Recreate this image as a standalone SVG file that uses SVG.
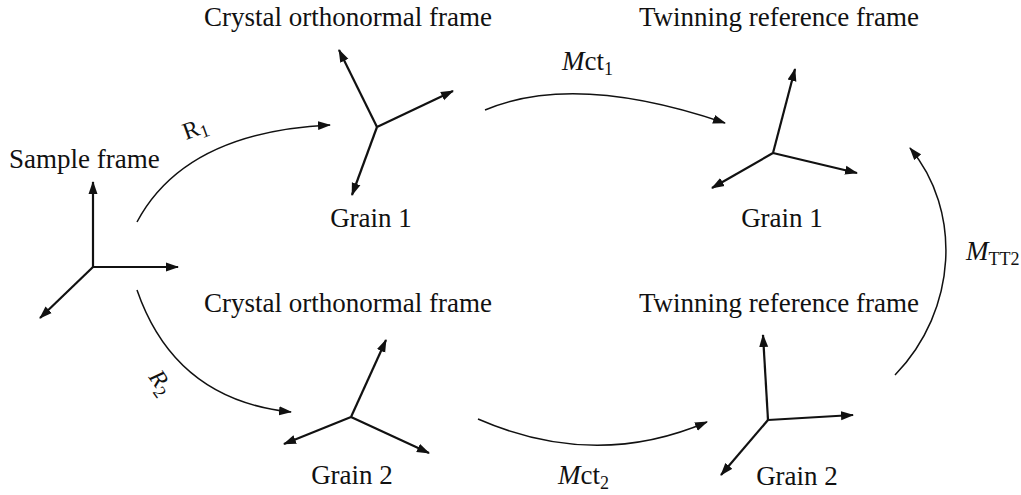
<svg xmlns="http://www.w3.org/2000/svg" width="1021" height="495" viewBox="0 0 1021 495">
<style>
text{font-family:"Liberation Serif","Times New Roman",serif;fill:#111;}
.t{font-size:27px;}
.ax{stroke:#111;stroke-width:2.2;fill:none;marker-end:url(#ah);}
.arc{stroke:#111;stroke-width:1.5;fill:none;marker-end:url(#ah);}
.sub{font-size:18px;}
</style>
<defs>
<marker id="ah" markerUnits="userSpaceOnUse" markerWidth="13" markerHeight="10" refX="12" refY="5" orient="auto">
<path d="M0,0.5 L13,5 L0,9.5 z" fill="#111"/>
</marker>
</defs>
<rect width="1021" height="495" fill="#fff"/>

<g id="sample-frame">
<text class="t" x="9" y="168">Sample frame</text>
<line class="ax" x1="93" y1="267" x2="93" y2="182"/>
<line class="ax" x1="93" y1="267" x2="178" y2="267"/>
<line class="ax" x1="93" y1="267" x2="40" y2="318"/>
</g>

<g id="crystal-grain1">
<text class="t" x="348" y="26" text-anchor="middle">Crystal orthonormal frame</text>
<line class="ax" x1="377" y1="127" x2="339" y2="50"/>
<line class="ax" x1="377" y1="127" x2="453" y2="91"/>
<line class="ax" x1="377" y1="127" x2="352" y2="195"/>
<text class="t" x="371" y="227" text-anchor="middle">Grain 1</text>
</g>

<g id="twin-grain1">
<text class="t" x="779" y="26" text-anchor="middle">Twinning reference frame</text>
<line class="ax" x1="773" y1="153" x2="795" y2="69"/>
<line class="ax" x1="773" y1="153" x2="857" y2="173"/>
<line class="ax" x1="773" y1="153" x2="712" y2="188"/>
<text class="t" x="782" y="227" text-anchor="middle">Grain 1</text>
</g>

<g id="crystal-grain2">
<text class="t" x="348" y="312" text-anchor="middle">Crystal orthonormal frame</text>
<line class="ax" x1="351" y1="417" x2="386" y2="340"/>
<line class="ax" x1="351" y1="417" x2="284" y2="444"/>
<line class="ax" x1="351" y1="417" x2="429" y2="453"/>
<text class="t" x="352" y="484" text-anchor="middle">Grain 2</text>
</g>

<g id="twin-grain2">
<text class="t" x="779" y="312" text-anchor="middle">Twinning reference frame</text>
<line class="ax" x1="768" y1="420" x2="763" y2="335"/>
<line class="ax" x1="768" y1="420" x2="853" y2="415"/>
<line class="ax" x1="768" y1="420" x2="721" y2="475"/>
<text class="t" x="797" y="485" text-anchor="middle">Grain 2</text>
</g>

<g id="connectors">
<path class="arc" d="M137,222 Q185,132 330,125"/>
<path class="arc" d="M137,290 Q175,400 291,412"/>
<path class="arc" d="M485,110 Q575,72 725,123"/>
<path class="arc" d="M478,419 Q595,470 707,422"/>
<path class="arc" d="M895,375 C958,310 962,210 910,148"/>
<text font-size="24" transform="rotate(-20 186 140)" x="186" y="140">R<tspan class="sub" dy="4">1</tspan></text>
<text font-size="24" font-style="italic" transform="rotate(55 148 377)" x="148" y="377">R<tspan class="sub" font-style="normal" dy="5">2</tspan></text>
<text class="t" x="562" y="70"><tspan font-style="italic">M</tspan>ct<tspan class="sub" dy="5">1</tspan></text>
<text class="t" x="558" y="484"><tspan font-style="italic">M</tspan>ct<tspan class="sub" dy="5">2</tspan></text>
<text class="t" x="966" y="260"><tspan font-style="italic">M</tspan><tspan class="sub" dy="5">TT2</tspan></text>
</g>
</svg>
